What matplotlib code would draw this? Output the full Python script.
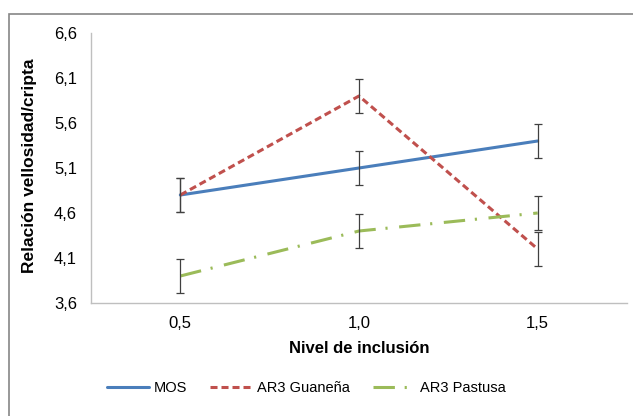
import matplotlib.pyplot as plt
import numpy as np
from matplotlib.patches import Rectangle
from matplotlib.ticker import FuncFormatter

plt.rcParams["font.family"] = ["Liberation Sans", "DejaVu Sans"]

# Data
NIVELES = ["0,5", "1,0", "1,5"]
MOS = [4.8, 5.1, 5.4]
GUANENA = [4.8, 5.9, 4.2]
PASTUSA = [3.9, 4.4, 4.6]
ERR_MOS = [0.19, 0.19, 0.19]
ERR_GUANENA = [0.19, 0.19, 0.19]
ERR_PASTUSA = [0.19, 0.19, 0.19]
Y_TICKS = [3.6, 4.1, 4.6, 5.1, 5.6, 6.1, 6.6]

BLUE = "#4A7EBB"
RED = "#C0504D"
GREEN = "#9BBB59"
AXIS_GRAY = "#BFBFBF"

fig = plt.figure(figsize=(6.33, 4.16), dpi=100)
ax = fig.add_axes([91 / 633, 113 / 416, 536 / 633, 270 / 416])

x = np.arange(len(NIVELES))

series = [
    ("MOS", MOS, ERR_MOS, BLUE, "-"),
    ("AR3 Guaneña", GUANENA, ERR_GUANENA, RED, (0, (2.3, 1.3))),
    ("AR3 Pastusa", PASTUSA, ERR_PASTUSA, GREEN, (0, (7, 3.2, 0.7, 3.8))),
]
for label, vals, err, color, ls in series:
    ax.plot(x, vals, color=color, lw=2.2, ls=ls, label=label, zorder=3,
            solid_capstyle="round")
    ax.errorbar(x, vals, yerr=err, fmt="none", ecolor="#404040",
                elinewidth=0.9, capsize=3, capthick=0.9, zorder=4)

ax.set_xlim(-0.5, 2.5)
ax.set_ylim(3.6, 6.6)
ax.set_xticks(x)
ax.set_xticklabels(NIVELES)
ax.set_yticks(Y_TICKS)
ax.yaxis.set_major_formatter(FuncFormatter(lambda v, p: f"{v:.1f}".replace(".", ",")))
ax.tick_params(length=0, labelsize=12, colors="black")
ax.tick_params(axis="x", pad=9)
ax.tick_params(axis="y", pad=10)

for s in ("top", "right"):
    ax.spines[s].set_visible(False)
for s in ("left", "bottom"):
    ax.spines[s].set_color(AXIS_GRAY)
    ax.spines[s].set_linewidth(1.0)

ax.set_xlabel("Nivel de inclusión", fontsize=12, fontweight="bold")
ax.set_ylabel("Relación vellosidad/cripta", fontsize=12.5, fontweight="bold")
ax.xaxis.set_label_coords(0.5, -0.14)
ax.yaxis.set_label_coords(-0.10, 0.51)

fig.legend(loc="center", bbox_to_anchor=(0.484, 0.067), ncol=3, frameon=False,
           fontsize=10.5, handlelength=2.9, handletextpad=0.3, columnspacing=1.6)

# chart-area border
fig.patches.append(Rectangle((9 / 633, -0.1), 1.2, (416 - 14) / 416 + 0.1,
                             transform=fig.transFigure, fill=False,
                             edgecolor="#868686", lw=1.2))

fig.savefig("out.png", dpi=100, facecolor="white")
